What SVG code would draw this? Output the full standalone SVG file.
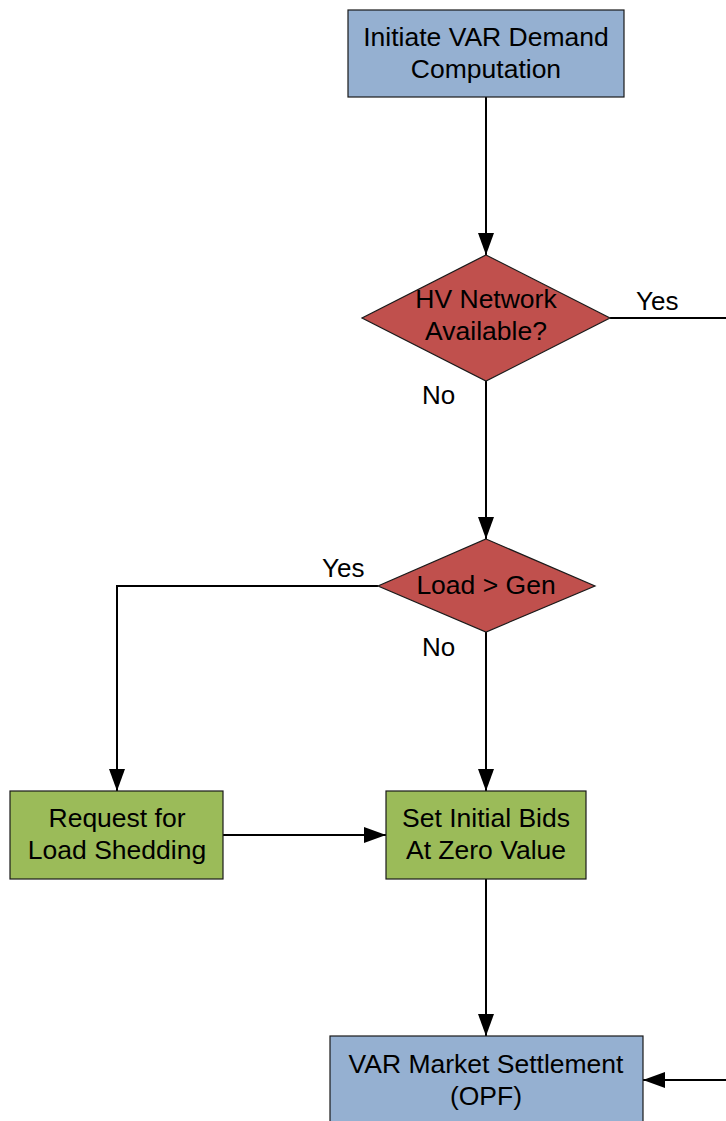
<svg xmlns="http://www.w3.org/2000/svg" width="726" height="1121" viewBox="0 0 726 1121">
  <style>
    .proc-blue { fill: #95b0d1; stroke: #1a1a1a; stroke-width: 1.2; }
    .proc-green { fill: #9bbb59; stroke: #1a1a1a; stroke-width: 1.2; }
    .decision { fill: #c0504d; stroke: #1a1a1a; stroke-width: 1.2; }
    .label { font-family: "Liberation Sans", Arial, sans-serif; font-size: 26.5px; fill: #000; text-anchor: middle; }
    .edge-label { font-family: "Liberation Sans", Arial, sans-serif; font-size: 26px; fill: #000; }
    .conn { fill: none; stroke: #000; stroke-width: 2; }
  </style>
  <defs>
    <marker id="arrow" markerUnits="userSpaceOnUse" markerWidth="22" markerHeight="16" refX="22" refY="8" orient="auto">
      <path d="M0,0 L22,8 L0,16 Z" fill="#000"/>
    </marker>
  </defs>

  <rect width="726" height="1121" fill="#fff"/>

  <!-- connectors -->
  <g id="connectors">
    <path class="conn" d="M486,97 L486,255" marker-end="url(#arrow)"/>
    <path class="conn" d="M610,318 L726,318"/>
    <path class="conn" d="M486,381 L486,539" marker-end="url(#arrow)"/>
    <path class="conn" d="M378,586 L117,586 L117,791" marker-end="url(#arrow)"/>
    <path class="conn" d="M486,632 L486,791" marker-end="url(#arrow)"/>
    <path class="conn" d="M223,835 L386,835" marker-end="url(#arrow)"/>
    <path class="conn" d="M486,879 L486,1036" marker-end="url(#arrow)"/>
    <path class="conn" d="M726,1080 L643,1080" marker-end="url(#arrow)"/>
    <text class="edge-label" x="636" y="310">Yes</text>
    <text class="edge-label" x="422" y="404">No</text>
    <text class="edge-label" x="322" y="577">Yes</text>
    <text class="edge-label" x="422" y="656">No</text>
  </g>

  <g id="start">
    <rect class="proc-blue" x="348" y="10" width="276" height="87"/>
    <text class="label" x="486" y="46">Initiate VAR Demand</text>
    <text class="label" x="486" y="78">Computation</text>
  </g>

  <g id="hv-check">
    <polygon class="decision" points="486,255 610,318 486,381 362,318"/>
    <text class="label" x="486" y="308">HV Network</text>
    <text class="label" x="486" y="340">Available?</text>
  </g>

  <g id="load-check">
    <polygon class="decision" points="486,539 595,586 486,632 378,586"/>
    <text class="label" x="486" y="594">Load &gt; Gen</text>
  </g>

  <g id="load-shedding">
    <rect class="proc-green" x="10" y="791" width="213" height="88"/>
    <text class="label" x="117" y="827">Request for</text>
    <text class="label" x="117" y="859">Load Shedding</text>
  </g>

  <g id="initial-bids">
    <rect class="proc-green" x="386" y="791" width="200" height="88"/>
    <text class="label" x="486" y="827">Set Initial Bids</text>
    <text class="label" x="486" y="859">At Zero Value</text>
  </g>

  <g id="settlement">
    <rect class="proc-blue" x="330" y="1036" width="313" height="100"/>
    <text class="label" x="486" y="1073">VAR Market Settlement</text>
    <text class="label" x="486" y="1105">(OPF)</text>
  </g>
</svg>
